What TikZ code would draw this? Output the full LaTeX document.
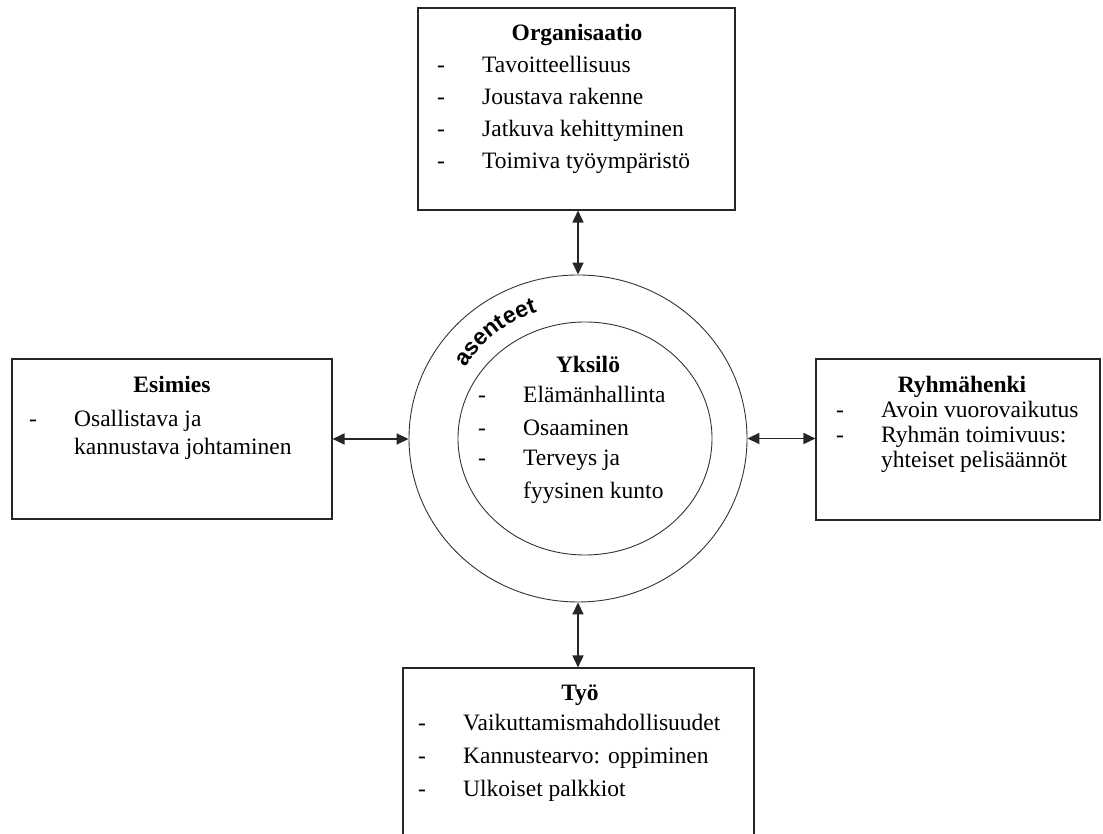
\documentclass[tikz,border=0pt]{standalone}
\usepackage{fontspec}
\setmainfont{Liberation Serif}
\newfontfamily\asenfont{Liberation Sans}
\usetikzlibrary{shapes.geometric, arrows.meta, positioning, calc, decorations.text}

\newcommand{\dashtext}[1]{\makebox[45pt][l]{-}#1}
\newcommand{\nodash}[1]{\hspace*{45pt}#1}

\begin{document}
\begin{tikzpicture}[
  x=1pt, y=1pt,
  box/.style={rectangle, draw=black!85, line width=1.1pt, inner sep=0pt},
  ring/.style={ellipse, draw=black!80, line width=0.9pt, inner sep=0pt},
  head/.style={anchor=base, inner sep=0pt, font=\fontsize{23.5}{28}\selectfont\bfseries},
  item/.style={anchor=base west, inner sep=0pt, font=\fontsize{23.5}{28}\selectfont},
  arr/.style={{Triangle[length=12pt,width=11pt]}-{Triangle[length=12pt,width=11pt]},
    line width=1.7pt, black!85}
]
  \useasboundingbox (0,0) rectangle (1103,834);

  % Boxes and rings
  \node[box, minimum width=317pt, minimum height=202pt] (org) at (576.5,725) {};
  \node[box, minimum width=320pt, minimum height=160pt] (esi) at (172,395) {};
  \node[box, minimum width=284pt, minimum height=161pt] (ryh) at (958,394.5) {};
  \node[box, minimum width=351pt, minimum height=190pt] (tyo) at (578.5,71) {};
  \node[ring, minimum width=338pt, minimum height=327pt] (asen) at (578,395.5) {};
  \node[ring, minimum width=254pt, minimum height=233pt] (yks) at (585,395.5) {};

  % Organisaatio
  \node[head] (org-h) at (577,793) {Organisaatio};
  \foreach \t [count=\i from 0] in {Tavoitteellisuus, Joustava rakenne,
      Jatkuva kehittyminen, Toimiva työympäristö}
    \node[item] (org-\i) at (437,761-32*\i) {\dashtext{\t}};

  % Esimies
  \node[head] (esi-h) at (172,441) {Esimies};
  \node[item] (esi-1) at (29,407) {\dashtext{Osallistava ja}};
  \node[item] (esi-2) at (29,379) {\nodash{kannustava johtaminen}};

  % Ryhmähenki
  \node[head] (ryh-h) at (962,441) {Ryhmähenki};
  \node[item] (ryh-1) at (836,416) {\dashtext{Avoin vuorovaikutus}};
  \node[item] (ryh-2) at (836,391) {\dashtext{Ryhmän toimivuus:}};
  \node[item] (ryh-3) at (836,366) {\nodash{yhteiset pelisäännöt}};

  % Yksilö
  \node[head] (yks-h) at (588,461) {Yksilö};
  \node[item] (yks-1) at (478,431) {\dashtext{Elämänhallinta}};
  \node[item] (yks-2) at (478,398) {\dashtext{Osaaminen}};
  \node[item] (yks-3) at (478,368) {\dashtext{Terveys ja}};
  \node[item] (yks-4) at (478,335) {\nodash{fyysinen kunto}};

  % Työ
  \node[head] (tyo-h) at (580,133) {Työ};
  \foreach \t [count=\i from 0] in {Vaikuttamismahdollisuudet,
      Kannustearvo: oppiminen, Ulkoiset palkkiot}
    \node[item] (tyo-\i) at (418,103-33*\i) {\dashtext{\t}};

  % asenteet along the ring
  \path[decorate, decoration={text along path,
      text={|\asenfont\bfseries\fontsize{23}{23}\selectfont|asenteet}}]
    ($(asen.center)+(148:133)$) arc[start angle=148, end angle=100, radius=133];

  % Arrows
  \draw[arr] (org.south -| asen.north) -- (asen.north);
  \draw[arr] (esi.east) -- (esi.east -| asen.west);
  \draw[arr] (asen.east) -- (asen.east -| ryh.west);
  \draw[arr] (asen.south) -- (asen.south |- tyo.north);
\end{tikzpicture}
\end{document}
